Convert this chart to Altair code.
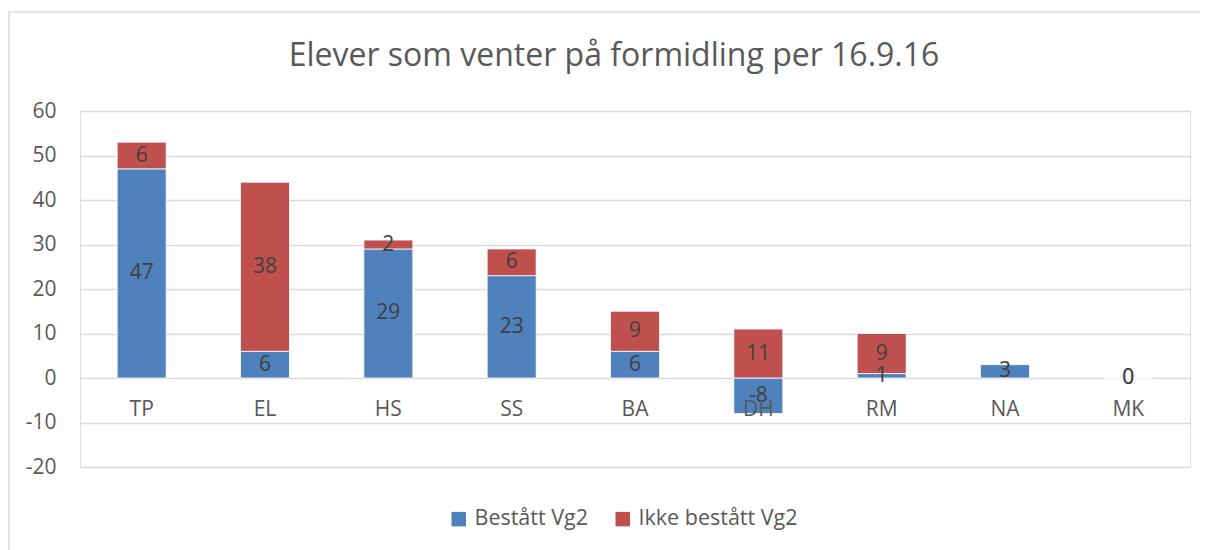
import altair as alt
import pandas as pd

title_text = "Elever som venter på formidling per 16.9.16"
categories = ["TP", "EL", "HS", "SS", "BA", "DH", "RM", "NA", "MK"]
bestatt = [47, 6, 29, 23, 6, -8, 1, 3, 0]
ikke_bestatt = [6, 38, 2, 6, 9, 11, 9, None, 0]
series = ["Bestått Vg2", "Ikke bestått Vg2"]
colors = ["#4F81BD", "#C0504D"]
y_ticks = [-20, -10, 0, 10, 20, 30, 40, 50, 60]

rows = []
for i, c in enumerate(categories):
    rows.append({"cat": c, "serie": series[0], "ord": 0, "value": bestatt[i]})
    rows.append({"cat": c, "serie": series[1], "ord": 1, "value": ikke_bestatt[i]})
df = pd.DataFrame(rows)
cat_df = pd.DataFrame({"cat": categories})

FONT = "Open Sans"
TXT = "#595959"

x_enc = alt.X("cat:N", sort=categories, axis=None,
              scale=alt.Scale(paddingInner=0, paddingOuter=0))

base = alt.Chart(df).transform_filter("isValid(datum.value)").transform_stack(
    stack="value", groupby=["cat"], sort=[alt.SortField("ord", order="ascending")],
    as_=["y0", "y1"], offset="zero"
).transform_calculate(mid="(datum.y0 + datum.y1) / 2", lbl="'' + datum.value")

y_scale = alt.Scale(domain=[-20, 60], nice=False, zero=False)

bars = base.mark_bar(size=49, stroke="white", strokeWidth=0.8).encode(
    x=x_enc,
    y=alt.Y("y0:Q", scale=y_scale, title=None,
            axis=alt.Axis(values=y_ticks, grid=True, gridColor="#D9D9D9", gridWidth=1.5,
                          domain=False, ticks=False, labelFontSize=21, labelColor=TXT,
                          labelFont=FONT, labelPadding=24,
                          labelExpr="'' + datum.value")),
    y2="y1:Q",
    color=alt.Color("serie:N", scale=alt.Scale(domain=series, range=colors),
                    legend=alt.Legend(title=None, orient="none", direction="horizontal",
                                      legendX=368, legendY=397, symbolType="square",
                                      symbolSize=210, labelFontSize=21.5, labelColor=TXT,
                                      labelFont=FONT, columnPadding=23, symbolStrokeWidth=0,
                                      labelOffset=5)),
)

labels = base.mark_text(fontSize=21, color="#404040", font=FONT, baseline="middle").encode(
    x=x_enc,
    y=alt.Y("mid:Q", scale=y_scale),
    text=alt.Text("lbl:N"),
)

cat_labels = alt.Chart(cat_df).mark_text(fontSize=21, color=TXT, font=FONT,
                                         baseline="middle", dy=32).encode(
    x=x_enc,
    y=alt.YDatum(0),
    text="cat:N",
)

frame = alt.Chart(pd.DataFrame({"f": [0]})).mark_rect(
    fill=None, stroke="#D9D9D9", strokeWidth=1.5
).encode(x=alt.value(-71), x2=alt.value(2000), y=alt.value(-99), y2=alt.value(1000))

title = alt.Chart(pd.DataFrame({"t": [title_text]})).mark_text(
    fontSize=32, color=TXT, font=FONT, baseline="middle", align="center"
).encode(x=alt.value(534), y=alt.value(-55), text="t:N")

chart = alt.layer(frame, bars, labels, cat_labels, title).properties(
    width=1110, height=356,
    autosize=alt.AutoSizeParams(type="none"),
    padding={"left": 72, "top": 103, "right": 10, "bottom": 83},
).configure_view(stroke=None).configure(background="white")

chart.save("out.html", embed_options={"renderer": "svg", "actions": False})
